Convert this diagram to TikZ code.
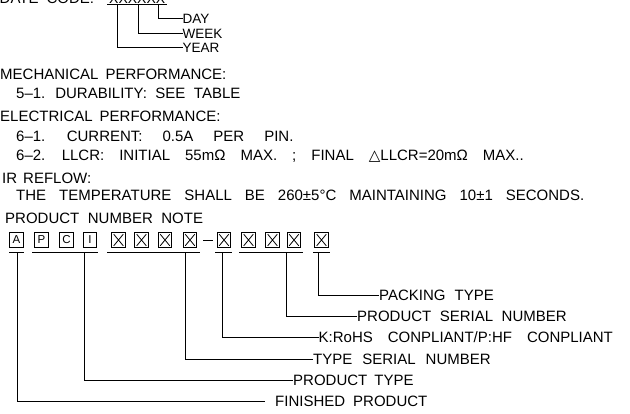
\documentclass[tikz,border=0pt]{standalone}
\usepackage{fontspec}
\setmainfont{Liberation Sans}
\newfontfamily\symbfont{DejaVu Sans}

\begin{document}
\begin{tikzpicture}[x=1pt,y=-1pt,
  ws/.style={execute at begin node={\spaceskip=#1\relax}},
  ws/.default=10pt,
  note/.style={font=\fontsize{15pt}{16pt}\selectfont,inner sep=0pt,
    anchor=base west,ws},
  lab/.style={note,anchor=west,text height=10.7pt,text depth=0pt},
  cell/.style={draw,line width=0.8pt,minimum width=13.5pt,minimum height=15.5pt,
    inner sep=0pt,font=\fontsize{11.5pt}{11.5pt}\selectfont},
  xcell/.style={cell,path picture={
    \draw[line width=0.8pt]
      ([shift={(2pt,2pt)}]path picture bounding box.south west) --
      ([shift={(-2pt,-2pt)}]path picture bounding box.north east)
      ([shift={(2pt,-2pt)}]path picture bounding box.north west) --
      ([shift={(-2pt,2pt)}]path picture bounding box.south east);}},
  lead/.style={line width=0.9pt}
]
\useasboundingbox (0,0) rectangle (630,413);

% date code, cut by the top edge
\node[note,ws=8pt] (date) at (-0.5,3) {DATE CODE:};
\node[note,font=\fontsize{14pt}{15pt}\selectfont] (code) at (109,3) {XXXXXX};
\draw[lead] (107,4.8) -- (167,4.8);
\coordinate (dyear) at (117,4.8);
\coordinate (dweek) at (138,4.8);
\coordinate (dday) at (158,4.8);
\node[lab,font=\fontsize{13.5pt}{15pt}\selectfont] (lday) at (182.5,18.5) {DAY};
\node[lab,font=\fontsize{13.5pt}{15pt}\selectfont] (lweek) at (182.5,33) {WEEK};
\node[lab,font=\fontsize{13.5pt}{15pt}\selectfont] (lyear) at (182.5,47.5) {YEAR};
\draw[lead] (dday) |- (lday.west);
\draw[lead] (dweek) |- (lweek.west);
\draw[lead] (dyear) |- (lyear.west);

\node[note,ws=7pt] (mech) at (0,79) {MECHANICAL PERFORMANCE:};
\node[note,ws=8.5pt] (dura) at (16,98) {5–1. DURABILITY: SEE TABLE};
\node[note,ws=7pt] (elec) at (0,121) {ELECTRICAL PERFORMANCE:};
\node[note,ws=20pt] (curr) at (16,141) {6–1. CURRENT: 0.5A PER PIN.};
\node[note,ws=15pt] (llcr) at (16,160) {6–2. LLCR: INITIAL 55mΩ MAX. ; FINAL
  {\symbfont △}LLCR=20mΩ MAX..};
\node[note,ws=6pt] (irref) at (2,183) {IR REFLOW:};
\node[note,ws=13pt] (temp) at (16,200) {THE TEMPERATURE SHALL BE 260±5°C MAINTAINING
  10±1 SECONDS.};
\node[note,ws=8.5pt] (pnn) at (5,223) {PRODUCT NUMBER NOTE};

% product number cells
\node[cell] (bA) at (16.5,240) {A};
\node[cell] (bP) at (41.5,240) {P};
\node[cell] (bC) at (66.5,240) {C};
\node[cell] (bI) at (90,240) {I};
\foreach \n/\x in {1/118.5,2/141.5,3/165,4/190,5/224,6/248.5,7/272.5,8/294,9/321.5}
  \node[xcell] (x\n) at (\x,240) {};
\draw[lead,shorten <=6pt,shorten >=4pt] (x4.east) -- (x5.west);

\foreach \a/\b in {9/24,32/98,107/200,215/232,239/303,313/330}
  \draw[lead] (\a,252) -- (\b,252);
\coordinate (ufin) at (17.5,252);
\coordinate (utype) at (84.5,252);
\coordinate (utsn) at (185,252);
\coordinate (urohs) at (222,252);
\coordinate (userial) at (286.5,252);
\coordinate (upack) at (318,252);

\node[lab,ws=9pt] (lpack) at (379,295) {PACKING TYPE};
\node[lab,ws=8.5pt] (lserial) at (357,316.5) {PRODUCT SERIAL NUMBER};
\node[lab,ws=15pt] (lrohs) at (318.5,337.5) {K:RoHS CONPLIANT/P:HF CONPLIANT};
\node[lab,ws=10pt] (ltsn) at (313,359) {TYPE SERIAL NUMBER};
\node[lab,ws=7pt] (ltype) at (293,380) {PRODUCT TYPE};
\node[lab,ws=8pt] (lfin) at (275,401.5) {FINISHED PRODUCT};
\draw[lead] (upack) |- (lpack.west);
\draw[lead] (userial) |- (lserial.west);
\draw[lead] (urohs) |- (lrohs.west);
\draw[lead] (utsn) |- (ltsn.west);
\draw[lead] (utype) |- (ltype.west);
\draw[lead] (ufin) |- ([xshift=-10pt]lfin.west);
\end{tikzpicture}
\end{document}
